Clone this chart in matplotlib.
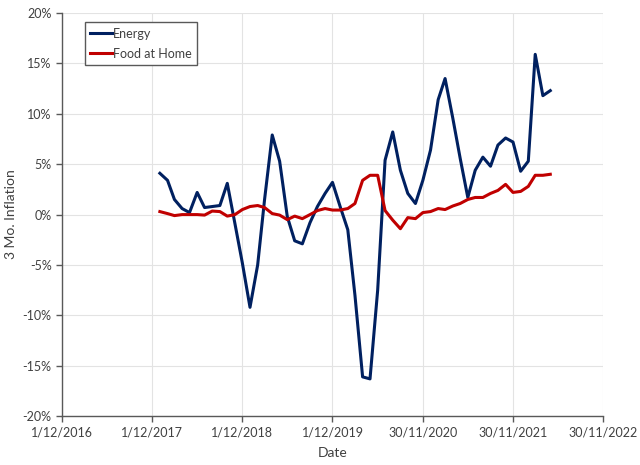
import matplotlib
matplotlib.use("Agg")
import matplotlib.pyplot as plt
import numpy as np
import pandas as pd

# monthly 3-month inflation, Jan 2018 - May 2022 (%)
dates = pd.date_range("2018-01-01", "2022-05-01", freq="MS")

energy = [4.1, 3.4, 1.5, 0.6, 0.2, 2.2, 0.7, 0.8, 0.9, 3.1,
          -0.9, -4.8, -9.2, -5.0, 1.5, 7.9, 5.3, -0.2, -2.6, -2.9,
          -0.8, 0.8, 2.1, 3.2, 0.8, -1.5, -8.0, -16.1, -16.3, -7.5,
          5.4, 8.2, 4.4, 2.1, 1.1, 3.4, 6.4, 11.4, 13.5, 9.6,
          5.6, 1.7, 4.4, 5.7, 4.8, 6.9, 7.6, 7.2, 4.3, 5.3,
          15.9, 11.8, 12.3]

food_at_home = [0.3, 0.1, -0.1, 0.0, 0.0, 0.0, -0.05, 0.35, 0.3, -0.15,
                0.0, 0.5, 0.8, 0.9, 0.7, 0.1, -0.05, -0.5, -0.15, -0.4,
                0.0, 0.4, 0.6, 0.45, 0.45, 0.6, 1.1, 3.4, 3.9, 3.9,
                0.4, -0.55, -1.4, -0.3, -0.4, 0.2, 0.3, 0.6, 0.5, 0.85,
                1.1, 1.5, 1.7, 1.7, 2.1, 2.4, 3.0, 2.2, 2.3, 2.8,
                3.9, 3.9, 4.0]

x_start = pd.Timestamp("2016-12-01")
x_ticks = [x_start + pd.Timedelta(days=365 * k) for k in range(7)]
y_ticks = np.arange(-20, 21, 5)

plt.rcParams["font.family"] = ["Lato", "DejaVu Sans"]

fig = plt.figure(figsize=(6.4, 4.65), dpi=100)
ax = fig.add_axes([0.097, 0.105, 0.845, 0.867])

ax.plot(dates, energy, color="#002060", lw=2.2, label="Energy")
ax.plot(dates, food_at_home, color="#C00000", lw=2.2, label="Food at Home")

ax.set_xlim(x_ticks[0], x_ticks[-1])
ax.set_xticks(x_ticks)
ax.set_xticklabels([f"{d.day}/{d.month}/{d.year}" for d in x_ticks])
ax.set_ylim(-20, 20)
ax.set_yticks(y_ticks)
ax.set_yticklabels([f"{v}%" for v in y_ticks])

ax.grid(True, color="#e3e3e3", lw=0.8)
ax.set_axisbelow(True)
for side in ["top", "right"]:
    ax.spines[side].set_visible(False)
for side in ["left", "bottom"]:
    ax.spines[side].set_color("#595959")
    ax.spines[side].set_linewidth(1.0)
ax.tick_params(axis="both", colors="#595959", labelcolor="#404040",
               labelsize=9, length=4, width=1.0)

ax.set_xlabel("Date", fontsize=10, color="#404040", labelpad=6)
ax.set_ylabel("3 Mo. Inflation", fontsize=10, color="#404040", labelpad=4)

leg = ax.legend(loc="upper left", bbox_to_anchor=(0.042, 0.978), fontsize=9,
                fancybox=False, framealpha=1, edgecolor="#595959",
                handlelength=1.7, handletextpad=0.1, borderpad=0.45,
                labelspacing=0.65, borderaxespad=0)
leg.get_frame().set_linewidth(1.0)
for t in leg.get_texts():
    t.set_color("#404040")

fig.savefig("out.png", dpi=100)
